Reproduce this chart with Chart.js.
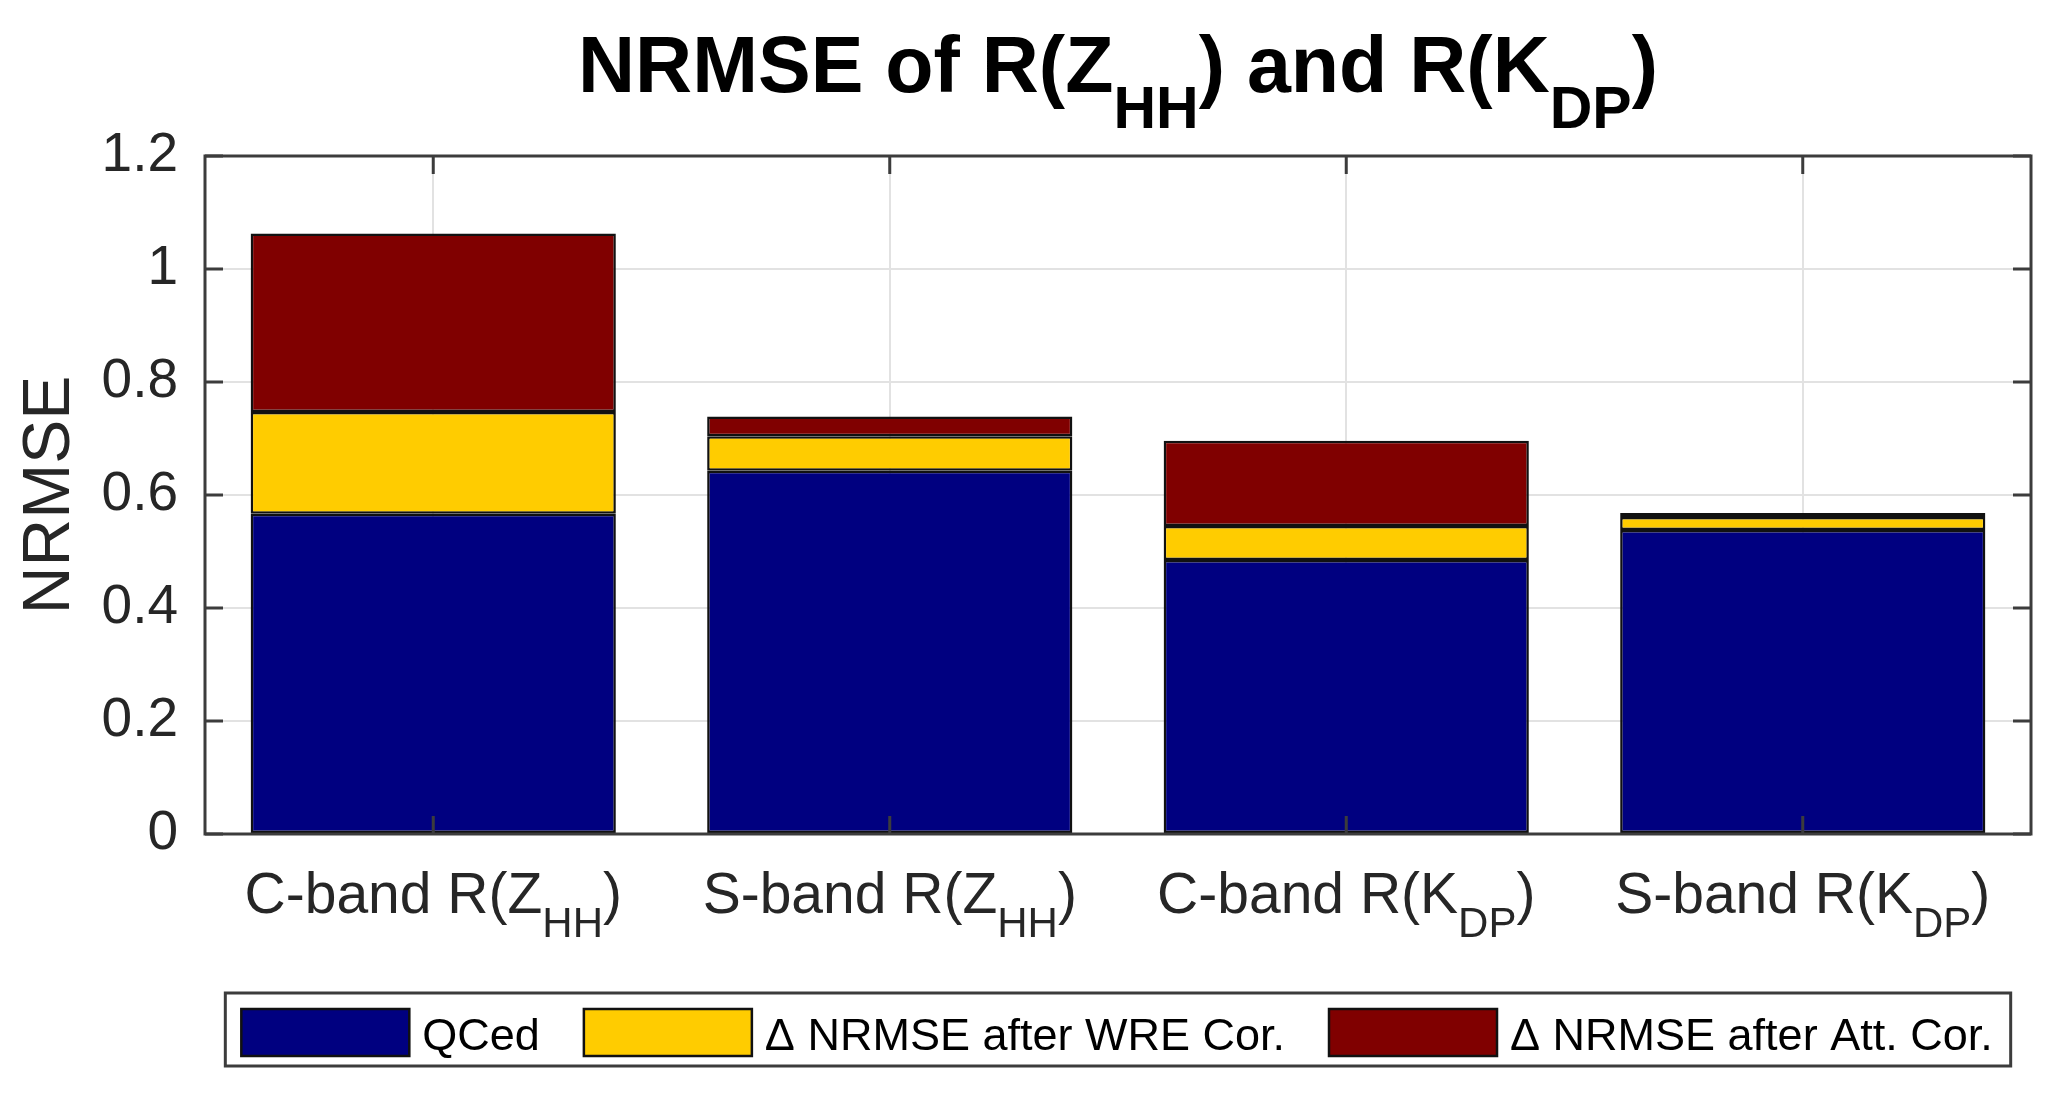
<!DOCTYPE html>
<html>
<head>
<meta charset="utf-8">
<script src="https://cdn.jsdelivr.net/npm/chart.js@4.4.1/dist/chart.umd.min.js"></script>
<style>
  html, body { margin: 0; padding: 0; background: #fff; }
  #wrap { width: 2050px; height: 1095px; position: relative; }
</style>
</head>
<body>
<div id="wrap"><canvas id="c"></canvas></div>
<script>
// ---- data ----
const chartTitle = 'NRMSE of R(Z_{HH}) and R(K_{DP})';
const yAxisTitle = 'NRMSE';
const categories = ['C-band R(Z_{HH})', 'S-band R(Z_{HH})', 'C-band R(K_{DP})', 'S-band R(K_{DP})'];
const seriesNames = ['QCed', '\u0394 NRMSE after WRE Cor.', '\u0394 NRMSE after Att. Cor.'];
const qced = [0.567, 0.643, 0.485, 0.538];
const deltaWRE = [0.180, 0.061, 0.060, 0.023];
const deltaAtt = [0.316, 0.035, 0.151, 0.007];
const yTicksMin = 0, yTicksMax = 1.2, yTickStep = 0.2;
const seriesColors = ['#000080', '#FFCC00', '#800000'];

const FONT = '"Liberation Sans", Arial, Helvetica, sans-serif';

function parseRich(str) {
  const parts = [];
  const re = /_\{([^}]*)\}/g;
  let last = 0, m;
  while ((m = re.exec(str)) !== null) {
    if (m.index > last) parts.push({t: str.slice(last, m.index), sub: false});
    parts.push({t: m[1], sub: true});
    last = re.lastIndex;
  }
  if (last < str.length) parts.push({t: str.slice(last), sub: false});
  return parts;
}

function drawRich(ctx, str, cx, baseY, mainFont, subFont, subOffset) {
  const parts = parseRich(str);
  let total = 0;
  parts.forEach(p => { ctx.font = p.sub ? subFont : mainFont; p.w = ctx.measureText(p.t).width; total += p.w; });
  let x = cx - total / 2;
  ctx.textAlign = 'left';
  ctx.textBaseline = 'alphabetic';
  parts.forEach(p => {
    ctx.font = p.sub ? subFont : mainFont;
    ctx.fillText(p.t, x, baseY + (p.sub ? subOffset : 0));
    x += p.w;
  });
}

const overlay = {
  id: 'overlay',
  afterDatasetsDraw(chart) {
    const ctx = chart.ctx, ca = chart.chartArea;
    const xs = chart.scales.x, ys = chart.scales.y;
    ctx.save();
    ctx.strokeStyle = '#3c3c3c';
    ctx.lineWidth = 3;
    const tl = 18;
    ctx.beginPath();
    ys.ticks.forEach(t => {
      const y = ys.getPixelForValue(t.value);
      ctx.moveTo(ca.left, y); ctx.lineTo(ca.left + tl, y);
      ctx.moveTo(ca.right, y); ctx.lineTo(ca.right - tl, y);
    });
    categories.forEach((c, i) => {
      const x = xs.getPixelForValue(i);
      ctx.moveTo(x, ca.bottom); ctx.lineTo(x, ca.bottom - tl);
      ctx.moveTo(x, ca.top); ctx.lineTo(x, ca.top + tl);
    });
    ctx.stroke();
    ctx.strokeRect(ca.left, ca.top, ca.right - ca.left, ca.bottom - ca.top);
    ctx.restore();
  },
  afterDraw(chart) {
    const ctx = chart.ctx, ca = chart.chartArea;
    const xs = chart.scales.x;
    const cx = (ca.left + ca.right) / 2;
    ctx.save();
    // title
    ctx.fillStyle = '#000';
    drawRich(ctx, chartTitle, cx, ca.top - 64, 'bold 79px ' + FONT, 'bold 59px ' + FONT, 36);
    // x labels
    ctx.fillStyle = '#262626';
    categories.forEach((c, i) => {
      drawRich(ctx, c, xs.getPixelForValue(i), ca.bottom + 79, '57px ' + FONT, '42px ' + FONT, 24);
    });
    // y title
    ctx.save();
    ctx.translate(69, (ca.top + ca.bottom) / 2);
    ctx.rotate(-Math.PI / 2);
    ctx.font = '66px ' + FONT;
    ctx.textAlign = 'center';
    ctx.textBaseline = 'alphabetic';
    ctx.fillText(yAxisTitle, 0, 0);
    ctx.restore();
    // legend
    const ds = chart.data.datasets;
    const padL = 16, padR = 18, sw = 168, sh = 47, gapT = 13, gapI = 44, fh = 73;
    const lf = '45px ' + FONT;
    ctx.font = lf;
    const widths = ds.map(d => ctx.measureText(d.label).width);
    let total = padL + padR;
    ds.forEach((d, i) => { total += sw + gapT + widths[i] + (i < ds.length - 1 ? gapI : 0); });
    const fx = cx - total / 2, fy = ca.bottom + 159;
    ctx.fillStyle = '#fff';
    ctx.fillRect(fx, fy, total, fh);
    ctx.strokeStyle = '#3c3c3c';
    ctx.lineWidth = 3;
    ctx.strokeRect(fx, fy, total, fh);
    let x = fx + padL;
    ds.forEach((d, i) => {
      ctx.fillStyle = d.backgroundColor;
      ctx.fillRect(x, fy + 16, sw, sh);
      ctx.strokeStyle = '#111';
      ctx.lineWidth = 2.5;
      ctx.strokeRect(x, fy + 16, sw, sh);
      x += sw + gapT;
      ctx.fillStyle = '#000';
      ctx.font = lf;
      ctx.textAlign = 'left';
      ctx.textBaseline = 'alphabetic';
      ctx.fillText(d.label, x, fy + 57);
      x += widths[i] + gapI;
    });
    ctx.restore();
  }
};

const mkDs = (label, data, color) => ({
  label, data, backgroundColor: color, borderColor: '#111', borderWidth: 2.5,
  borderSkipped: false, barPercentage: 0.8, categoryPercentage: 1.0
});

new Chart(document.getElementById('c'), {
  type: 'bar',
  data: {
    labels: categories,
    datasets: [
      mkDs(seriesNames[0], qced, seriesColors[0]),
      mkDs(seriesNames[1], deltaWRE, seriesColors[1]),
      mkDs(seriesNames[2], deltaAtt, seriesColors[2])
    ]
  },
  options: {
    responsive: true,
    maintainAspectRatio: false,
    devicePixelRatio: 1,
    animation: false,
    layout: { padding: { top: 156, right: 19, left: 0, bottom: 0 } },
    plugins: { legend: { display: false }, title: { display: false }, tooltip: { enabled: false } },
    scales: {
      x: {
        stacked: true,
        ticks: { display: false },
        grid: { offset: false, color: '#e2e2e2', lineWidth: 2, drawTicks: false },
        border: { display: false },
        afterFit: s => { s.height = 261; }
      },
      y: {
        stacked: true,
        min: yTicksMin, max: yTicksMax,
        ticks: {
          stepSize: yTickStep, padding: 27, color: '#262626',
          font: { family: FONT, size: 55 },
          callback: v => String(+Number(v).toFixed(1))
        },
        grid: { color: '#e2e2e2', lineWidth: 2, drawTicks: false },
        border: { display: false },
        afterFit: s => { s.width = 205; }
      }
    }
  },
  plugins: [overlay]
});
</script>
</body>
</html>
